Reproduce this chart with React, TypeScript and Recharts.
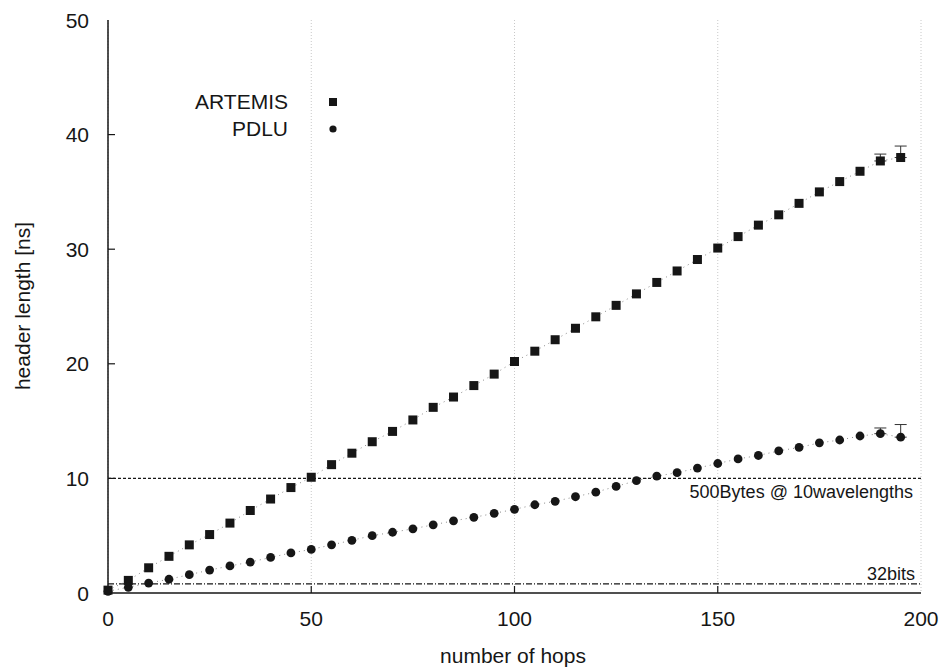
import React from "react";
import {
  ComposedChart,
  Line,
  XAxis,
  YAxis,
  CartesianGrid,
  ReferenceLine,
  ErrorBar,
} from "recharts";

const hops = [0, 5, 10, 15, 20, 25, 30, 35, 40, 45, 50, 55, 60, 65, 70, 75, 80, 85, 90, 95, 100, 105, 110, 115, 120, 125, 130, 135, 140, 145, 150, 155, 160, 165, 170, 175, 180, 185, 190, 195];
const artemis = [0.25, 1.1, 2.2, 3.2, 4.2, 5.1, 6.1, 7.2, 8.2, 9.2, 10.1, 11.2, 12.2, 13.2, 14.1, 15.1, 16.2, 17.1, 18.1, 19.1, 20.2, 21.1, 22.1, 23.1, 24.1, 25.1, 26.1, 27.1, 28.1, 29.1, 30.1, 31.1, 32.1, 33.0, 34.0, 35.0, 35.9, 36.8, 37.7, 38.0];
const pdlu = [0.15, 0.5, 0.87, 1.2, 1.6, 2.0, 2.36, 2.7, 3.1, 3.5, 3.8, 4.2, 4.6, 5.0, 5.3, 5.6, 5.95, 6.3, 6.6, 6.95, 7.3, 7.7, 8.0, 8.4, 8.8, 9.3, 9.8, 10.2, 10.5, 10.9, 11.3, 11.7, 12.0, 12.4, 12.7, 13.1, 13.35, 13.7, 13.9, 13.6];
const errHops = [190, 195];
const artemisErrUp = [0.6, 1.0];
const pdluErrUp = [0.5, 1.1];

const xTicks = [0, 50, 100, 150, 200];
const yTicks = [0, 10, 20, 30, 40, 50];

const refPacket = 10;
const refBits = 0.8;
const refPacketLabel = "500Bytes @ 10wavelengths";
const refBitsLabel = "32bits";
const xTitle = "number of hops";
const yTitle = "header length [ns]";
const seriesNames = ["ARTEMIS", "PDLU"];

const data = hops.map((h, i) => {
  const k = errHops.indexOf(h);
  return {
    x: h,
    artemis: artemis[i],
    pdlu: pdlu[i],
    artemisErr: k >= 0 ? [0, artemisErrUp[k]] : undefined,
    pdluErr: k >= 0 ? [0, pdluErrUp[k]] : undefined,
  };
});

const FONT = "'Liberation Sans', Arial, Helvetica, sans-serif";
const INK = "#161616";

const SquareDot = (props: any) => {
  const { cx, cy, index } = props;
  if (cx == null || cy == null) return <g key={"s" + index} />;
  return <rect key={"s" + index} x={cx - 4.5} y={cy - 4.5} width={9} height={9} fill={INK} />;
};
const CircleDot = (props: any) => {
  const { cx, cy, index } = props;
  if (cx == null || cy == null) return <g key={"c" + index} />;
  return <circle key={"c" + index} cx={cx} cy={cy} r={4.4} fill={INK} />;
};

const BottomTick = (props: any) => {
  const { x, y, payload } = props;
  return (
    <g>
      {payload.value !== 0 && payload.value !== 200 ? (
        <line x1={x} y1={y} x2={x} y2={y - 7} stroke={INK} strokeWidth={1.2} />
      ) : null}
      <text x={x} y={y + 25} textAnchor="middle" dominantBaseline="central" fontSize={21} fontFamily={FONT} fill={INK}>
        {payload.value}
      </text>
    </g>
  );
};
const TopTick = (props: any) => {
  const { x, y, payload } = props;
  if (payload.value === 0 || payload.value === 200) return <g />;
  return <line x1={x} y1={y} x2={x} y2={y + 7} stroke={INK} strokeWidth={1.2} />;
};
const LeftTick = (props: any) => {
  const { x, y, payload } = props;
  return (
    <g>
      {payload.value !== 0 && payload.value !== 50 ? (
        <line x1={x} y1={y} x2={x + 7} y2={y} stroke={INK} strokeWidth={1.2} />
      ) : null}
      <text x={x - 19} y={y} textAnchor="end" dominantBaseline="central" fontSize={21} fontFamily={FONT} fill={INK}>
        {payload.value}
      </text>
    </g>
  );
};
const RightTick = (props: any) => {
  const { x, y, payload } = props;
  if (payload.value === 0 || payload.value === 50) return <g />;
  return <line x1={x} y1={y} x2={x - 7} y2={y} stroke={INK} strokeWidth={1.2} />;
};

export default function App() {
  return (
    <div style={{ position: "absolute", left: 0, top: 0, width: 949, height: 670, background: "#fff" }}>
      <ComposedChart
        width={949}
        height={670}
        data={data}
        margin={{ top: 20, right: 28, bottom: 0, left: 0 }}
        style={{ fontFamily: FONT }}
      >
        <CartesianGrid horizontal={false} stroke="#c8c8c8" strokeDasharray="1 2" />
        <XAxis
          dataKey="x"
          type="number"
          domain={[0, 200]}
          ticks={xTicks}
          height={77}
          tickSize={0}
          tickMargin={0}
          tickLine={false}
          axisLine={{ stroke: INK, strokeWidth: 1.5 }}
          tick={<BottomTick />}
          label={{
            content: () => (
              <text x={513} y={655} textAnchor="middle" dominantBaseline="central" fontSize={21} fontFamily={FONT} fill={INK}>
                {xTitle}
              </text>
            ),
          }}
        />
        <XAxis
          xAxisId="top"
          orientation="top"
          type="number"
          domain={[0, 200]}
          ticks={xTicks}
          height={0}
          tickSize={0}
          tickMargin={0}
          tickLine={false}
          axisLine={{ stroke: "#3a3a3a", strokeWidth: 1.2 }}
          tick={<TopTick />}
        />
        <YAxis
          type="number"
          domain={[0, 50]}
          ticks={yTicks}
          width={108}
          tickSize={0}
          tickMargin={0}
          tickLine={false}
          axisLine={{ stroke: INK, strokeWidth: 1.5 }}
          tick={<LeftTick />}
          label={{
            content: () => (
              <text
                x={22}
                y={306}
                transform="rotate(-90 22 306)"
                textAnchor="middle"
                dominantBaseline="central"
                fontSize={21}
                fontFamily={FONT}
                fill={INK}
              >
                {yTitle}
              </text>
            ),
          }}
        />
        <YAxis
          yAxisId="right"
          orientation="right"
          type="number"
          domain={[0, 50]}
          ticks={yTicks}
          width={0}
          tickSize={0}
          tickMargin={0}
          tickLine={false}
          axisLine={{ stroke: INK, strokeWidth: 1.5 }}
          tick={<RightTick />}
        />
        <ReferenceLine
          y={refPacket}
          stroke={INK}
          strokeWidth={1.2}
          strokeDasharray="3 2"
          label={{
            content: (p: any) => {
              const vb = p.viewBox || {};
              return (
                <text x={(vb.x || 0) + (vb.width || 0) - 8} y={(vb.y || 0) + 14} textAnchor="end" dominantBaseline="central" fontSize={18} fontFamily={FONT} fill={INK}>
                  {refPacketLabel}
                </text>
              );
            },
          }}
        />
        <ReferenceLine
          y={refBits}
          stroke={INK}
          strokeWidth={1.2}
          strokeDasharray="6 2 1 2"
          label={{
            content: (p: any) => {
              const vb = p.viewBox || {};
              return (
                <text x={(vb.x || 0) + (vb.width || 0) - 6} y={(vb.y || 0) - 10} textAnchor="end" dominantBaseline="central" fontSize={18} fontFamily={FONT} fill={INK}>
                  {refBitsLabel}
                </text>
              );
            },
          }}
        />
        <Line
          dataKey="artemis"
          type="linear"
          stroke="#8a8a8a"
          strokeWidth={1}
          strokeDasharray="1 4"
          dot={SquareDot}
          activeDot={false}
          isAnimationActive={false}
        >
          <ErrorBar dataKey="artemisErr" direction="y" width={6} stroke="#333" strokeWidth={1} />
        </Line>
        <Line
          dataKey="pdlu"
          type="linear"
          stroke="#8a8a8a"
          strokeWidth={1}
          strokeDasharray="1 4"
          dot={CircleDot}
          activeDot={false}
          isAnimationActive={false}
        >
          <ErrorBar dataKey="pdluErr" direction="y" width={6} stroke="#333" strokeWidth={1} />
        </Line>
      </ComposedChart>
      <div
        style={{
          position: "absolute",
          left: 150,
          top: 88,
          fontFamily: FONT,
          fontSize: 21,
          color: INK,
          lineHeight: "27px",
        }}
      >
        {seriesNames.map((n, i) => (
          <div key={n} style={{ display: "flex", alignItems: "center" }}>
            <span style={{ width: 138, textAlign: "right", display: "inline-block" }}>{n}</span>
            <svg width={50} height={27} style={{ display: "block" }}>
              {i === 0 ? (
                <rect x={41} y={10} width={8} height={8} fill={INK} />
              ) : (
                <circle cx={45} cy={14} r={3.6} fill={INK} />
              )}
            </svg>
          </div>
        ))}
      </div>
    </div>
  );
}
